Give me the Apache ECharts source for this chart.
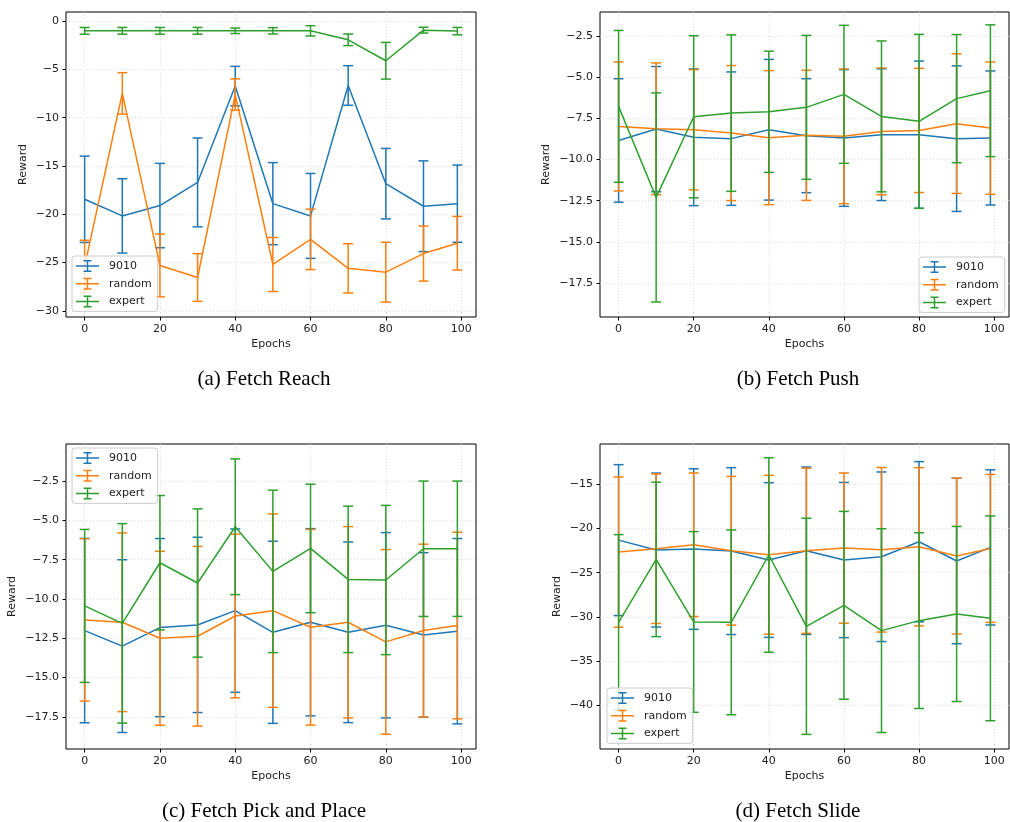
<!DOCTYPE html>
<html>
<head>
<meta charset="utf-8">
<script src="https://cdn.jsdelivr.net/npm/echarts@6/dist/echarts.min.js"></script>
<style>
html,body{margin:0;padding:0;background:#fff;}
#chart{width:1010px;height:822px;}
</style>
</head>
<body>
<div id="chart"></div>
<script>
// ---------------- data ----------------
const epochs = [0, 10, 20, 30, 40, 50, 60, 70, 80, 90, 99];
const seriesNames = ['9010', 'random', 'expert'];
const captions = ['(a) Fetch Reach', '(b) Fetch Push', '(c) Fetch Pick and Place', '(d) Fetch Slide'];
const xTicks = [0, 20, 40, 60, 80, 100];
const yTicksA = [-30, -25, -20, -15, -10, -5, 0];
const yTicksB = [-17.5, -15, -12.5, -10, -7.5, -5, -2.5];
const yTicksC = [-17.5, -15, -12.5, -10, -7.5, -5, -2.5];
const yTicksD = [-40, -35, -30, -25, -20, -15];

// (a) Fetch Reach
const reach9010Mean   = [-18.45, -20.17, -19.1, -16.7, -6.72, -18.9, -20.17, -6.66, -16.83, -19.17, -18.9];
const reach9010Err    = [4.47, 3.85, 4.37, 4.6, 2.04, 4.25, 4.4, 2.05, 3.65, 4.7, 4.0];
const reachRandomMean = [-25.4, -7.48, -25.3, -26.55, -7.6, -25.2, -22.6, -25.6, -26.0, -24.07, -23.0];
const reachRandomErr  = [2.7, 2.15, 3.25, 2.47, 1.62, 2.8, 3.13, 2.55, 3.1, 2.85, 2.78];
const reachExpertMean = [-1.0, -1.0, -1.0, -1.0, -1.0, -1.0, -1.0, -1.93, -4.1, -0.93, -1.03];
const reachExpertErr  = [0.35, 0.35, 0.35, 0.35, 0.28, 0.33, 0.53, 0.6, 1.9, 0.3, 0.38];

// (b) Fetch Push
const push9010Mean   = [-8.84, -8.15, -8.65, -8.73, -8.19, -8.55, -8.69, -8.49, -8.49, -8.73, -8.69];
const push9010Err    = [3.75, 3.8, 4.15, 4.05, 4.27, 3.46, 4.15, 4.0, 4.47, 4.42, 4.07];
const pushRandomMean = [-7.99, -8.13, -8.19, -8.39, -8.67, -8.53, -8.59, -8.29, -8.23, -7.82, -8.09];
const pushRandomErr  = [3.92, 4.0, 3.65, 4.1, 4.07, 3.95, 4.09, 3.85, 3.77, 4.24, 4.02];
const pushExpertMean = [-6.77, -12.3, -7.4, -7.18, -7.1, -6.83, -6.04, -7.38, -7.68, -6.3, -5.82];
const pushExpertErr  = [4.61, 6.35, 4.92, 4.75, 3.68, 4.37, 4.19, 4.58, 5.28, 3.89, 4.0];

// (c) Fetch Pick and Place
const pickMean9010   = [-12.01, -13.0, -11.82, -11.65, -10.74, -12.12, -11.48, -12.12, -11.67, -12.29, -12.05];
const pickErr9010    = [5.87, 5.5, 5.67, 5.58, 5.2, 5.8, 5.96, 5.75, 5.9, 5.24, 5.9];
const pickRandomMean = [-11.33, -11.48, -12.5, -12.37, -11.08, -10.74, -11.8, -11.48, -12.73, -12.01, -11.69];
const pickRandomErr  = [5.17, 5.69, 5.54, 5.72, 5.21, 6.16, 6.23, 6.09, 5.88, 5.5, 5.94];
const pickExpertMean = [-10.44, -11.55, -7.69, -8.98, -5.4, -8.24, -6.78, -8.75, -8.79, -6.8, -6.8];
const pickExpertErr  = [4.87, 6.35, 4.28, 4.72, 4.32, 5.17, 4.09, 4.66, 4.75, 4.31, 4.31];

// (d) Fetch Slide
const slide9010Mean   = [-21.32, -22.44, -22.33, -22.56, -23.57, -22.52, -23.57, -23.2, -21.5, -23.68, -22.14];
const slide9010Err    = [8.52, 8.69, 9.06, 9.42, 8.73, 9.45, 8.76, 9.57, 9.04, 9.34, 8.76];
const slideRandomMean = [-22.67, -22.29, -21.84, -22.52, -22.97, -22.52, -22.22, -22.41, -22.07, -23.12, -22.26];
const slideRandomErr  = [8.48, 8.44, 8.1, 8.39, 8.97, 9.32, 8.48, 9.29, 8.93, 8.8, 8.35];
const slideExpertMean = [-30.6, -23.5, -30.56, -30.6, -23.0, -31.05, -28.68, -31.54, -30.41, -29.66, -30.15];
const slideExpertErr  = [9.9, 8.71, 10.2, 10.43, 10.98, 12.2, 10.6, 11.5, 9.92, 9.88, 11.56];

// ---------------- layout / style ----------------
const colors = ['#1f77b4', '#ff7f0e', '#2ca02c'];
const panels = [
  { grid: {left: 66, top: 12, width: 410, height: 305}, yMin: -30.64, yMax: 0.95, yTicks: yTicksA, dec: 0, nameGap: 37,
    legend: {left: 72, top: 256}, caption: [264, 379],
    means: [reach9010Mean, reachRandomMean, reachExpertMean], errs: [reach9010Err, reachRandomErr, reachExpertErr] },
  { grid: {left: 600, top: 12, width: 409, height: 305}, yMin: -19.56, yMax: -1.04, yTicks: yTicksB, dec: 1, nameGap: 48,
    legend: {left: 919, top: 257}, caption: [798, 379],
    means: [push9010Mean, pushRandomMean, pushExpertMean], errs: [push9010Err, pushRandomErr, pushExpertErr] },
  { grid: {left: 66, top: 444, width: 410, height: 305}, yMin: -19.55, yMax: -0.13, yTicks: yTicksC, dec: 1, nameGap: 48,
    legend: {left: 72, top: 448}, caption: [264, 811],
    means: [pickMean9010, pickRandomMean, pickExpertMean], errs: [pickErr9010, pickRandomErr, pickExpertErr] },
  { grid: {left: 600, top: 444, width: 409, height: 305}, yMin: -44.9, yMax: -10.47, yTicks: yTicksD, dec: 0, nameGap: 37,
    legend: {left: 607, top: 688}, caption: [798, 811],
    means: [slide9010Mean, slideRandomMean, slideExpertMean], errs: [slide9010Err, slideRandomErr, slideExpertErr] }
];

const tickFont = 'DejaVu Sans';
const textColor = '#222';
const legendIcon = 'path://M0,5.25H23V6.75H0Z M10.75,0H12.25V12H10.75Z M7.5,0H15.5V1.5H7.5Z M7.5,10.5H15.5V12H7.5Z';

function fmt(dec) {
  return function (v) { return (v < 0 ? '\u2212' : '') + Math.abs(v).toFixed(dec); };
}

function errRender(color) {
  return function (params, api) {
    const x = api.value(0), m = api.value(1), e = api.value(2);
    const p1 = api.coord([x, m + e]);
    const p2 = api.coord([x, m - e]);
    const c = 5;
    const s = {stroke: color, lineWidth: 1.5};
    return {
      type: 'group',
      children: [
        {type: 'line', shape: {x1: p1[0], y1: p1[1], x2: p2[0], y2: p2[1]}, style: s},
        {type: 'line', shape: {x1: p1[0] - c, y1: p1[1], x2: p1[0] + c, y2: p1[1]}, style: s},
        {type: 'line', shape: {x1: p2[0] - c, y1: p2[1], x2: p2[0] + c, y2: p2[1]}, style: s}
      ]
    };
  };
}

const grids = [], xAxes = [], yAxes = [], series = [], legends = [], graphics = [];
const splitStyle = {show: true, lineStyle: {color: '#d4d4d4', type: [1, 2], width: 0.8}};

panels.forEach(function (p, pi) {
  grids.push(Object.assign({show: true, borderColor: '#000', borderWidth: 1, backgroundColor: 'transparent'}, p.grid));
  xAxes.push({
    type: 'value', gridIndex: pi, min: -4.95, max: 103.95, position: 'bottom',
    name: 'Epochs', nameLocation: 'middle', nameGap: 22,
    nameTextStyle: {fontFamily: tickFont, fontSize: 11, color: textColor},
    axisLine: {show: false, onZero: false},
    axisTick: {show: true, inside: false, length: 3.5, lineStyle: {color: '#000', width: 1}, customValues: xTicks},
    axisLabel: {fontFamily: tickFont, fontSize: 11, color: textColor, margin: 7, customValues: xTicks, formatter: fmt(0)},
    splitLine: splitStyle
  });
  yAxes.push({
    type: 'value', gridIndex: pi, min: p.yMin, max: p.yMax, position: 'left',
    name: 'Reward', nameLocation: 'middle', nameGap: p.nameGap, nameRotate: 90,
    nameTextStyle: {fontFamily: tickFont, fontSize: 11, color: textColor},
    axisLine: {show: false, onZero: false},
    axisTick: {show: true, inside: false, length: 3.5, lineStyle: {color: '#000', width: 1}, customValues: p.yTicks},
    axisLabel: {fontFamily: tickFont, fontSize: 11, color: textColor, margin: 7, customValues: p.yTicks, formatter: fmt(p.dec)},
    splitLine: splitStyle
  });
  seriesNames.forEach(function (nm, si) {
    series.push({
      type: 'line', name: nm, xAxisIndex: pi, yAxisIndex: pi,
      data: epochs.map(function (ep, i) { return [ep, p.means[si][i]]; }),
      showSymbol: false, symbol: 'none', color: colors[si],
      lineStyle: {color: colors[si], width: 1.5}, z: 2 + si * 0.1
    });
    series.push({
      type: 'custom', name: nm + ' err', xAxisIndex: pi, yAxisIndex: pi,
      data: epochs.map(function (ep, i) { return [ep, p.means[si][i], p.errs[si][i]]; }),
      encode: {x: 0, y: 1}, renderItem: errRender(colors[si]), z: 2 + si * 0.1 + 0.05
    });
  });
  legends.push({
    data: seriesNames, orient: 'vertical', left: p.legend.left, top: p.legend.top,
    padding: [4, 6, 4, 4], itemWidth: 23, itemHeight: 12, itemGap: 5.7,
    icon: legendIcon, itemStyle: {borderWidth: 0}, selectedMode: false,
    backgroundColor: 'rgba(255,255,255,0.8)', borderColor: '#cccccc', borderWidth: 1, borderRadius: 3,
    textStyle: {fontFamily: tickFont, fontSize: 11, color: textColor, padding: [0, 0, 0, 5]}
  });
  graphics.push({
    type: 'text', x: p.caption[0], y: p.caption[1],
    style: {text: captions[pi], font: '21px "Liberation Serif", "Times New Roman", serif', fill: '#000',
      textAlign: 'center', textVerticalAlign: 'middle'}
  });
});

const chart = echarts.init(document.getElementById('chart'), null, {renderer: 'canvas'});
chart.setOption({
  animation: false,
  backgroundColor: '#fff',
  grid: grids, xAxis: xAxes, yAxis: yAxes, series: series, legend: legends, graphic: graphics
});
</script>
</body>
</html>
